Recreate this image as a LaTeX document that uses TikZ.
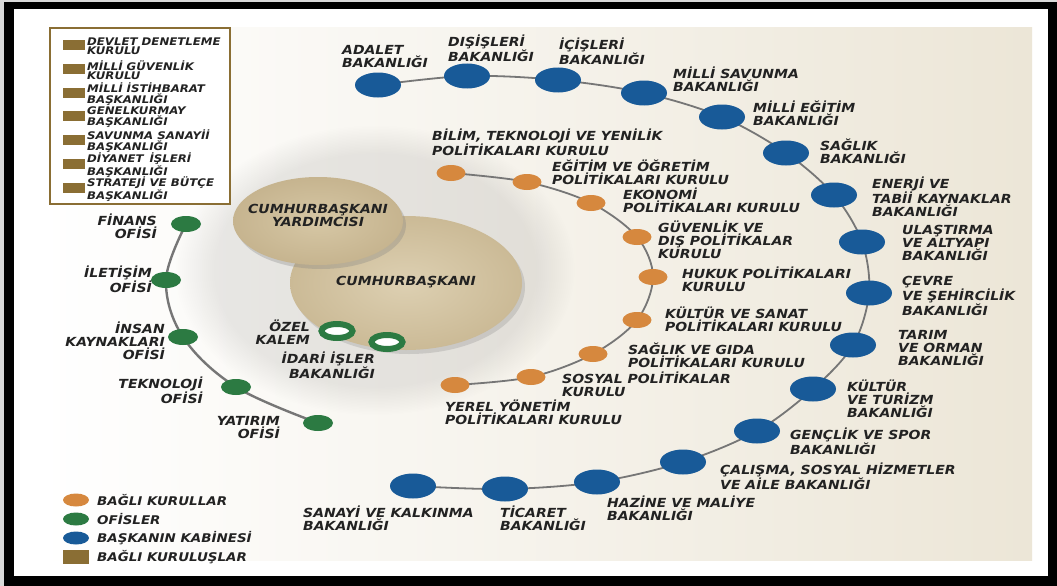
\documentclass[tikz,border=0pt]{standalone}
\usepackage{fontspec}
\setmainfont[FakeStretch=1.12]{DejaVu Sans}
\usetikzlibrary{shapes.geometric,shadows,fadings}
\definecolor{blueN}{RGB}{24,90,152}
\definecolor{greenN}{RGB}{44,122,66}
\definecolor{orangeN}{RGB}{214,136,62}
\definecolor{brownN}{RGB}{138,110,52}
\definecolor{txt}{RGB}{34,34,34}
\definecolor{lineC}{RGB}{118,118,118}
\definecolor{beige}{RGB}{236,230,215}
\definecolor{beigeM}{RGB}{245,242,236}
\definecolor{tanIn}{RGB}{221,208,178}
\definecolor{tanOut}{RGB}{203,186,150}
\definecolor{tanIn2}{RGB}{214,199,165}
\definecolor{tanOut2}{RGB}{198,180,143}
\pgfdeclarelayer{bg}
\pgfdeclarelayer{lines}
\pgfsetlayers{bg,lines,main}
\begin{document}
\begin{tikzpicture}[x=1pt,y=-1pt,
  bnode/.style={ellipse, fill=blueN, minimum width=46pt, minimum height=25pt, inner sep=0pt},
  onode/.style={ellipse, fill=orangeN, minimum width=29pt, minimum height=16pt, inner sep=0pt},
  gnode/.style={ellipse, fill=greenN, minimum width=30pt, minimum height=16pt, inner sep=0pt},
  rnode/.style={ellipse, draw=greenN, line width=6pt, fill=white, minimum width=31pt, minimum height=14pt, inner sep=0pt},
  lbl/.style={font=\bfseries\itshape\fontsize{12.5}{13}\selectfont, text=txt, inner sep=0pt, align=left, anchor=west},
  lblr/.style={lbl, align=right, anchor=east},
  lblc/.style={lbl, align=center, anchor=center},
  sqr/.style={rectangle, fill=brownN, minimum width=22pt, minimum height=10pt, inner sep=0pt},
  lgs/.style={font=\bfseries\itshape\fontsize{10.5}{9}\selectfont, text=txt, inner sep=0pt, align=left, anchor=west},
  lgb/.style={font=\bfseries\itshape\fontsize{12}{12}\selectfont, text=txt, inner sep=0pt, anchor=west},
  conn/.style={draw=lineC, line width=1.8pt}
]
\useasboundingbox (0,0) rectangle (1057,586);
\begin{pgfonlayer}{bg}
\fill[gray!30] (0,0) rectangle (1057,586);
\fill[black] (4,2) rectangle (1057,586);
\fill[white] (14,9) rectangle (1048,576);
\shade[left color=white, middle color=beigeM, right color=beige] (40,28) rectangle (1032,560);
\fill[black, opacity=0.08, path fading=circle with fuzzy edge 20 percent] (375,270) ellipse [x radius=200, y radius=145];
\end{pgfonlayer}

% legend box
\draw[brownN, line width=2pt, fill=white] (50,28) rectangle (230,204);
\node[sqr] (s1) at (74,45) {};
\node[lgs] (t1) at (87,46) {DEVLET DENETLEME\\KURULU};
\node[sqr] (s2) at (74,69) {};
\node[lgs] (t2) at (87,70) {MİLLİ GÜVENLİK\\KURULU};
\node[sqr] (s3) at (74,93) {};
\node[lgs] (t3) at (87,94) {MİLLİ İSTİHBARAT\\BAŞKANLIĞI};
\node[sqr] (s4) at (74,116) {};
\node[lgs] (t4) at (87,117) {GENELKURMAY\\BAŞKANLIĞI};
\node[sqr] (s5) at (74,140) {};
\node[lgs] (t5) at (87,141) {SAVUNMA SANAYİİ\\BAŞKANLIĞI};
\node[sqr] (s6) at (74,164) {};
\node[lgs] (t6) at (87,165) {DİYANET \,İŞLERİ\\BAŞKANLIĞI};
\node[sqr] (s7) at (74,188) {};
\node[lgs] (t7) at (87,189) {STRATEJİ VE BÜTÇE\\BAŞKANLIĞI};

% central ellipses
\node[ellipse, minimum width=232pt, minimum height=134pt, inner sep=0pt, shade, inner color=tanIn, outer color=tanOut,
  drop shadow={opacity=0.25, shadow xshift=3pt, shadow yshift=-4pt}] (pres) at (406,283) {};
\node[ellipse, minimum width=170pt, minimum height=88pt, inner sep=0pt, shade, inner color=tanIn2, outer color=tanOut2,
  drop shadow={opacity=0.3, shadow xshift=3pt, shadow yshift=-4pt}] (vp) at (318,221) {};
\node[lblc] (vpl) at (318,215) {CUMHURBAŞKANI\\YARDIMCISI};
\node[lblc] (presl) at (406,282) {CUMHURBAŞKANI};

% rings
\node[rnode] (ozel) at (337,331) {};
\node[rnode] (idari) at (387,342) {};
\node[lblr] (l-ozel) at (310,332) {ÖZEL\\KALEM};
\node[lblr] (l-idari) at (375,365) {İDARİ İŞLER\\BAKANLIĞI};

% green offices
\node[gnode] (finans) at (186,224) {};
\node[gnode] (iletisim) at (166,280) {};
\node[gnode] (insan) at (183,337) {};
\node[gnode] (tekno) at (236,387) {};
\node[gnode] (yatirim) at (318,423) {};
\node[lblr] (l-finans) at (157,226) {FİNANS\\OFİSİ};
\node[lblr] (l-iletisim) at (152,279) {İLETİŞİM\\OFİSİ};
\node[lblr] (l-insan) at (165,341) {İNSAN\\KAYNAKLARI\\OFİSİ};
\node[lblr] (l-tekno) at (203,390) {TEKNOLOJİ\\OFİSİ};
\node[lblr] (l-yatirim) at (280,428) {YATIRIM\\OFİSİ};

% orange councils
\node[onode] (o1) at (451,173) {};
\node[onode] (o2) at (527,182) {};
\node[onode] (o3) at (591,203) {};
\node[onode] (o4) at (637,237) {};
\node[onode] (o5) at (653,277) {};
\node[onode] (o6) at (637,320) {};
\node[onode] (o7) at (593,354) {};
\node[onode] (o8) at (531,377) {};
\node[onode] (o9) at (455,385) {};
\node[lbl] (l-o1) at (432,142) {BİLİM, TEKNOLOJİ VE YENİLİK\\POLİTİKALARI KURULU};
\node[lbl] (l-o2) at (552,172) {EĞİTİM VE ÖĞRETİM\\POLİTİKALARI KURULU};
\node[lbl] (l-o3) at (623,200) {EKONOMİ\\POLİTİKALARI KURULU};
\node[lbl] (l-o4) at (658,240) {GÜVENLİK VE\\DIŞ POLİTİKALAR\\KURULU};
\node[lbl] (l-o5) at (682,279) {HUKUK POLİTİKALARI\\KURULU};
\node[lbl] (l-o6) at (665,319) {KÜLTÜR VE SANAT\\POLİTİKALARI KURULU};
\node[lbl] (l-o7) at (628,355) {SAĞLIK VE GIDA\\POLİTİKALARI KURULU};
\node[lbl] (l-o8) at (562,384) {SOSYAL POLİTİKALAR\\KURULU};
\node[lbl] (l-o9) at (445,412) {YEREL YÖNETİM\\POLİTİKALARI KURULU};

% blue ministries
\node[bnode] (b1) at (378,85) {};
\node[bnode] (b2) at (467,76) {};
\node[bnode] (b3) at (558,80) {};
\node[bnode] (b4) at (644,93) {};
\node[bnode] (b5) at (722,117) {};
\node[bnode] (b6) at (786,153) {};
\node[bnode] (b7) at (834,195) {};
\node[bnode] (b8) at (862,242) {};
\node[bnode] (b9) at (869,293) {};
\node[bnode] (b10) at (853,345) {};
\node[bnode] (b11) at (813,389) {};
\node[bnode] (b12) at (757,431) {};
\node[bnode] (b13) at (683,462) {};
\node[bnode] (b14) at (597,482) {};
\node[bnode] (b15) at (505,489) {};
\node[bnode] (b16) at (413,486) {};
\node[lbl] (l-b1) at (342,57) {ADALET\\BAKANLIĞI};
\node[lbl] (l-b2) at (448,48) {DIŞİŞLERİ\\BAKANLIĞI};
\node[lbl] (l-b3) at (559,51) {İÇİŞLERİ\\BAKANLIĞI};
\node[lbl] (l-b4) at (673,79) {MİLLİ SAVUNMA\\BAKANLIĞI};
\node[lbl] (l-b5) at (753,113) {MİLLİ EĞİTİM\\BAKANLIĞI};
\node[lbl] (l-b6) at (820,151) {SAĞLIK\\BAKANLIĞI};
\node[lbl] (l-b7) at (872,197) {ENERJİ VE\\TABİİ KAYNAKLAR\\BAKANLIĞI};
\node[lbl] (l-b8) at (902,243) {ULAŞTIRMA\\VE ALTYAPI\\BAKANLIĞI};
\node[lbl] (l-b9) at (902,296) {ÇEVRE\\VE ŞEHİRCİLİK\\BAKANLIĞI};
\node[lbl] (l-b10) at (898,348) {TARIM\\VE ORMAN\\BAKANLIĞI};
\node[lbl] (l-b11) at (847,399) {KÜLTÜR\\VE TURİZM\\BAKANLIĞI};
\node[lbl] (l-b12) at (790,441) {GENÇLİK VE SPOR\\BAKANLIĞI};
\node[lbl] (l-b13) at (720,476) {ÇALIŞMA, SOSYAL HİZMETLER\\VE AİLE BAKANLIĞI};
\node[lbl] (l-b14) at (607,508) {HAZİNE VE MALİYE\\BAKANLIĞI};
\node[lbl] (l-b15) at (500,518) {TİCARET\\BAKANLIĞI};
\node[lbl] (l-b16) at (303,518) {SANAYİ VE KALKINMA\\BAKANLIĞI};

% bottom legend
\node[onode, minimum width=26pt, minimum height=13pt] (k1) at (76,500) {};
\node[gnode, minimum width=26pt, minimum height=13pt] (k2) at (76,519) {};
\node[bnode, minimum width=26pt, minimum height=13pt] (k3) at (76,538) {};
\node[sqr, minimum width=26pt, minimum height=14pt] (k4) at (76,557) {};
\node[lgb] (lk1) at (97,500) {BAĞLI KURULLAR};
\node[lgb] (lk2) at (97,519) {OFİSLER};
\node[lgb] (lk3) at (97,538) {BAŞKANIN KABİNESİ};
\node[lgb] (lk4) at (97,557) {BAĞLI KURULUŞLAR};

% connectors
\begin{pgfonlayer}{lines}
\draw[conn] plot[smooth, tension=0.55] coordinates {(b1.center) (b2.center) (b3.center) (b4.center) (b5.center) (b6.center) (b7.center) (b8.center) (b9.center) (b10.center) (b11.center) (b12.center) (b13.center) (b14.center) (b15.center) (b16.center)};
\draw[conn] plot[smooth, tension=0.55] coordinates {(o1.center) (o2.center) (o3.center) (o4.center) (o5.center) (o6.center) (o7.center) (o8.center) (o9.center)};
\draw[conn, line width=2.4pt] plot[smooth, tension=0.6] coordinates {(finans.center) (iletisim.center) (insan.center) (tekno.center) (yatirim.center)};
\end{pgfonlayer}
\end{tikzpicture}
\end{document}
